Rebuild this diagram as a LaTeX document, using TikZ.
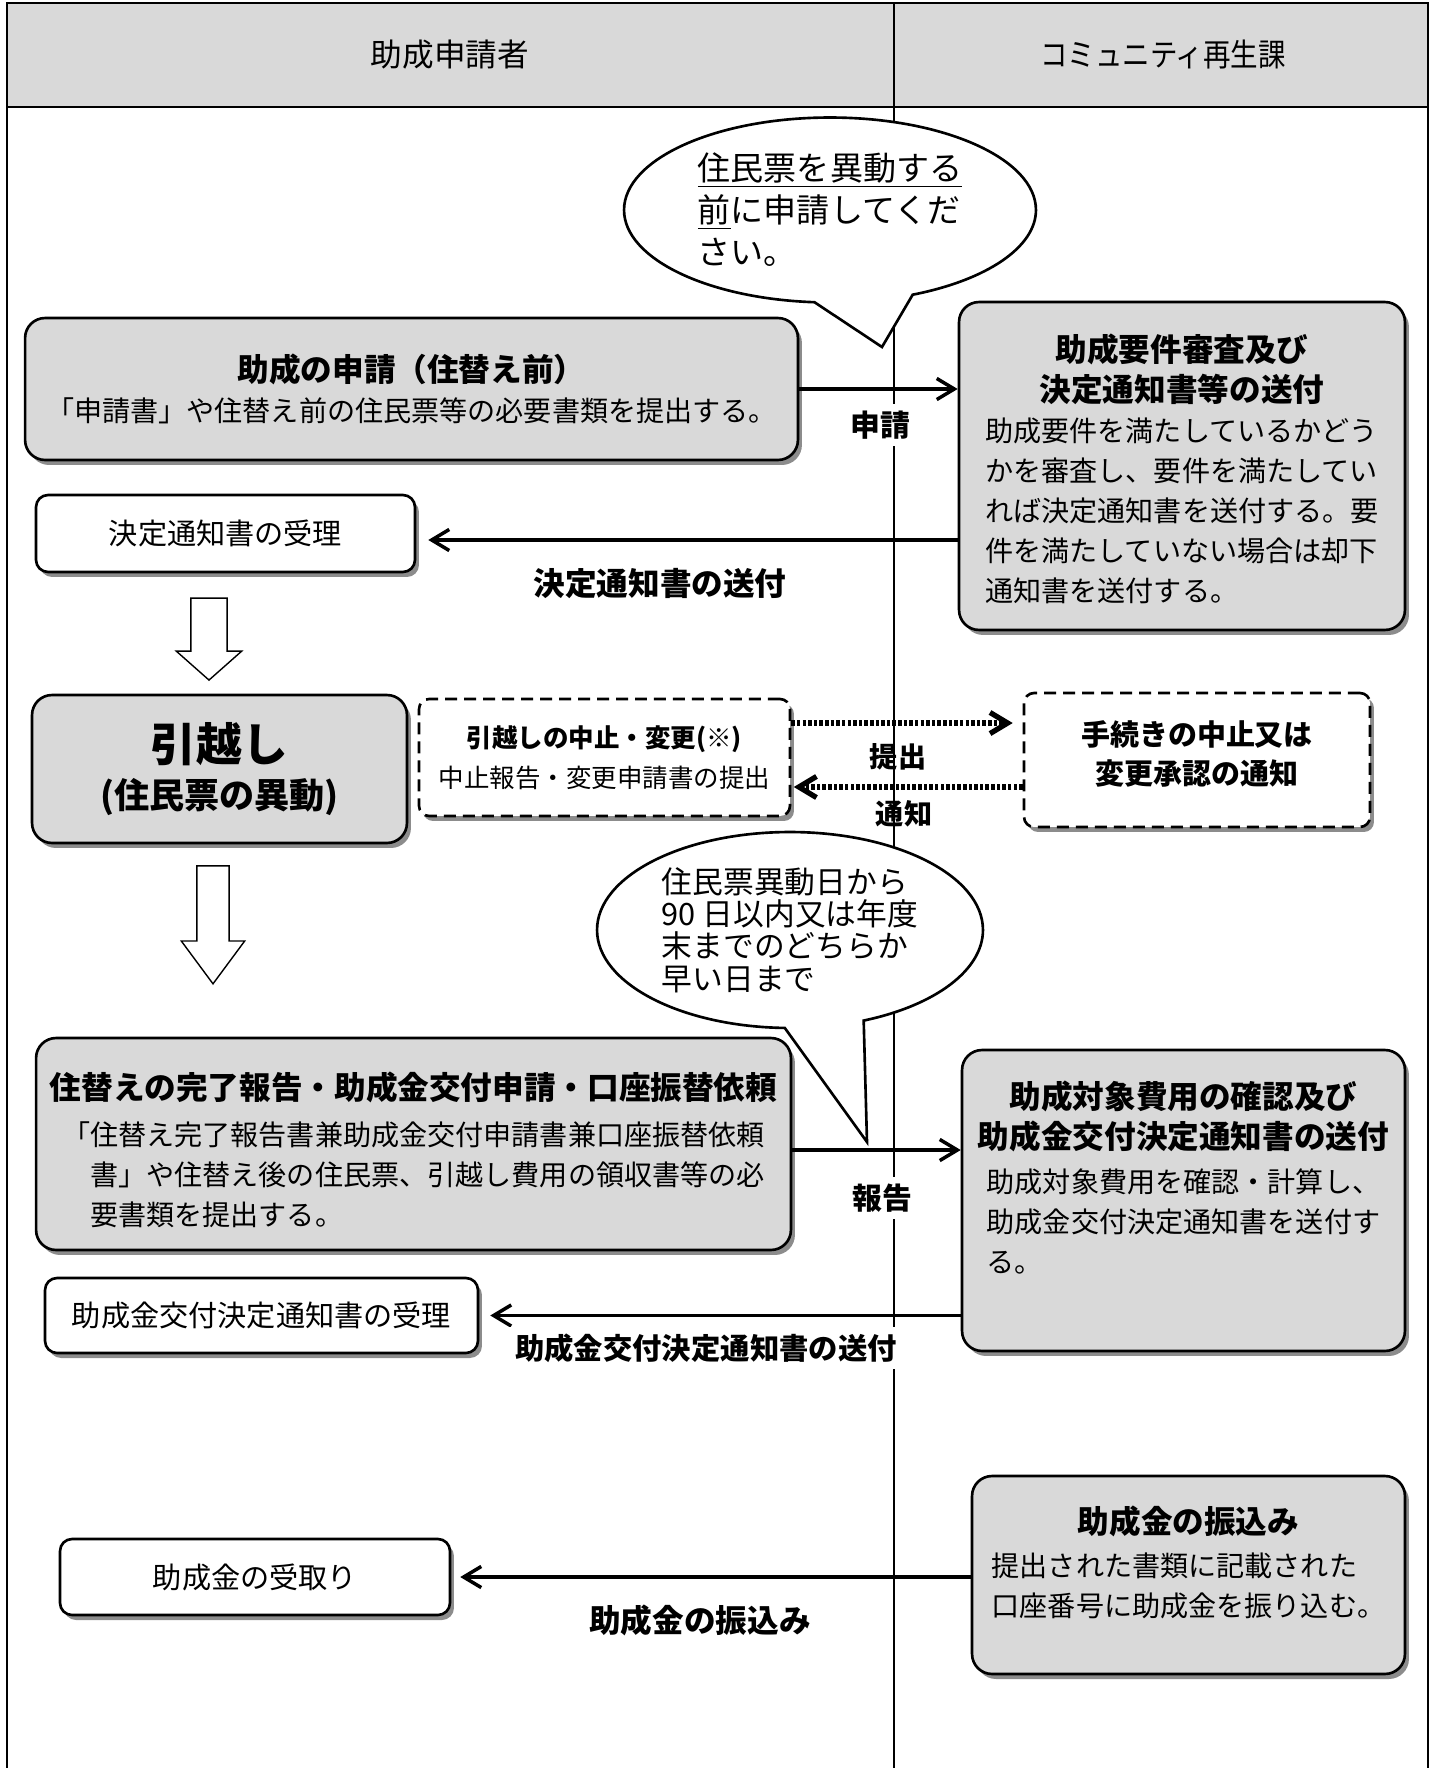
\documentclass[tikz,border=0pt]{standalone}
\usepackage{fontspec}
\setmainfont{Noto Sans CJK JP}
\newfontfamily\heavyfont{Noto Sans CJK JP Black}
\usetikzlibrary{arrows.meta,shapes.callouts,shapes.arrows,shadows}

\definecolor{boxgray}{RGB}{217,217,217}  % Hex: #d9d9d9
\definecolor{shadowgray}{RGB}{140,140,140}

\newcommand{\boxtitle}[1]{{\fontsize{18}{22.8}\selectfont\heavyfont #1}}
\newcommand{\bodylines}[1]{\begin{tabular}[t]{@{}l@{}}#1\end{tabular}}

\begin{document}
\begin{tikzpicture}[
        x=0.02cm, y=-0.02cm,
        lane/.style={
            line width=1.5pt
        },
        divider/.style={
            line width=1.1pt
        },
        colhead/.style={
            font=\fontsize{18}{22}\selectfont
        },
        graybox/.style={
            rectangle,
            rounded corners=0.4cm,
            draw,
            line width=1.5pt,
            fill=boxgray,
            drop shadow={shadow xshift=0.08cm, shadow yshift=-0.1cm, fill=shadowgray, opacity=1},
            align=center,
            font=\fontsize{16}{22.8}\selectfont
        },
        whitebox/.style={
            rectangle,
            rounded corners=0.24cm,
            draw,
            line width=1.5pt,
            fill=white,
            drop shadow={shadow xshift=0.08cm, shadow yshift=-0.1cm, fill=shadowgray, opacity=1},
            align=center,
            font=\fontsize{16.6}{22}\selectfont
        },
        dashbox/.style={
            rectangle,
            rounded corners=0.2cm,
            draw,
            dash pattern=on 0.24cm off 0.14cm,
            line width=1.5pt,
            fill=white,
            drop shadow={shadow xshift=0.08cm, shadow yshift=-0.1cm, fill=shadowgray, opacity=1},
            align=center
        },
        flow/.style={
            -{Straight Barb[length=10pt,width=12pt]},
            line width=2pt
        },
        dotflow/.style={
            flow,
            line width=3pt,
            dash pattern=on 2pt off 1.2pt
        },
        downarrow/.style={
            single arrow,
            shape border rotate=270,
            anchor=tip,
            draw,
            line width=0.8pt,
            fill=white
        },
        balloon/.style={
            ellipse callout,
            draw,
            line width=1.5pt,
            fill=white,
            inner sep=0pt,
            align=left
        },
        tag/.style={
            fill=white,
            inner sep=4pt,
            font=\fontsize{17}{20}\selectfont\bfseries
        }
    ]
        \useasboundingbox (0,0) rectangle (1434,1768);

        % Lanes
        \fill[boxgray] (7,3) rectangle (1428,107);
        \draw[lane] (7,1768) -- (7,3) -- (1428,3) -- (1428,1768);
        \draw[lane] (7,107) -- (1428,107);
        \draw[divider] (894,3) -- (894,1768);
        \node[colhead] (applicant) at (450,55) {助成申請者};
        \node[colhead] (office) at (1163,55) {\scalebox{0.87}[1]{コミュニティ再生課}};

        % ============== Before moving ==============
        \node[graybox, minimum width=15.46cm, minimum height=2.84cm] (apply) at (411.5,389)
            {\boxtitle{助成の申請（住替え前）}\\「申請書」や住替え前の住民票等の必要書類を提出する。};
        \node[graybox, minimum width=8.92cm, minimum height=6.56cm] (check) at (1182,466)
            {\boxtitle{\rule{0pt}{0.86cm}助成要件審査及び}\\\boxtitle{決定通知書等の送付}\\
             \bodylines{助成要件を満たしているかどう\\かを審査し、要件を満たしてい\\れば決定通知書を送付する。要\\件を満たしていない場合は却下\\通知書を送付する。}};
        \node[whitebox, minimum width=7.58cm, minimum height=1.54cm] (receipt) at (225.5,533.5) {決定通知書の受理};

        \draw[flow] (apply.east) -- (apply.east -| check.west);
        \draw[flow] ([yshift=-0.13cm]receipt.east -| check.west) -- ([yshift=-0.13cm,xshift=0.24cm]receipt.east);
        \node[tag] (applytag) at (880,425) {申請};
        \node[tag, font=\fontsize{18}{20}\selectfont\bfseries] (decisiontag) at (660,584) {決定通知書の送付};

        % ============== Moving ==============
        \node[downarrow, minimum height=1.64cm, minimum width=1.28cm, inner sep=0.35cm, single arrow head extend=0.29cm, single arrow tip angle=97] (down1) at (209,681) {};
        \node[graybox, minimum width=7.5cm, minimum height=2.96cm] (move) at (219.5,769)
            {{\fontsize{26}{30}\selectfont\heavyfont 引越し}\\[4pt]{\fontsize{20}{24}\selectfont\heavyfont (住民票の異動)}};
        \node[dashbox, minimum width=7.42cm, minimum height=2.34cm, font=\fontsize{14.5}{22.8}\selectfont] (change) at (604.5,757.5)
            {{\bfseries 引越しの中止・変更(※)}\\中止報告・変更申請書の提出};
        \node[dashbox, minimum width=6.92cm, minimum height=2.68cm, font=\fontsize{16.5}{22}\selectfont\bfseries] (approve) at (1197,760)
            {手続きの中止又は\\変更承認の通知\rule[-0.31cm]{0pt}{0pt}};

        \draw[dotflow] ([yshift=0.69cm]change.east) -- ([yshift=0.69cm,xshift=-0.2cm]change.east -| approve.west);
        \draw[dotflow] ([yshift=-0.59cm]change.east -| approve.west) -- ([yshift=-0.59cm,xshift=0.05cm]change.east);
        \node[tag, fill=none, font=\fontsize{16}{20}\selectfont\bfseries] (submittag) at (898,757) {提出};
        \node[tag, fill=none, font=\fontsize{16}{20}\selectfont\bfseries] (noticetag) at (904,814) {通知};

        \node[downarrow, minimum height=2.36cm, minimum width=1.24cm, inner sep=0.31cm, single arrow head extend=0.31cm, single arrow tip angle=73] (down2) at (213,985) {};

        % ============== After moving ==============
        \node[graybox, minimum width=15.1cm, minimum height=4.24cm] (report) at (413.5,1144)
            {\boxtitle{\rule{0pt}{0.98cm}住替えの完了報告・助成金交付申請・口座振替依頼}\\[3pt]
             \bodylines{「住替え完了報告書兼助成金交付申請書兼口座振替依頼\\\hspace*{1em}書」や住替え後の住民票、引越し費用の領収書等の必\\\hspace*{1em}要書類を提出する。}};
        \node[graybox, minimum width=8.86cm, minimum height=6.02cm] (cost) at (1183.5,1200.5)
            {\boxtitle{助成対象費用の確認及び}\\\boxtitle{助成金交付決定通知書の送付}\\[2pt]
             \bodylines{助成対象費用を確認・計算し、\\助成金交付決定通知書を送付す\\る。\rule[-0.95cm]{0pt}{0pt}}};
        \node[whitebox, minimum width=8.66cm, minimum height=1.5cm] (grant) at (261.5,1315.5) {助成金交付決定通知書の受理};

        \draw[flow] ([yshift=-0.12cm]report.east) -- ([yshift=-0.12cm]report.east -| cost.west);
        \draw[flow] (grant.east -| cost.west) -- ([xshift=0.22cm]grant.east);
        \node[tag] (reporttag) at (882,1198) {報告};
        \node[tag, font=\fontsize{16.7}{20}\selectfont\bfseries] (granttag) at (706,1348) {助成金交付決定通知書の送付};

        % ============== Payment ==============
        \node[graybox, minimum width=8.66cm, minimum height=3.96cm] (transfer) at (1188.5,1575)
            {\boxtitle{助成金の振込み}\\[1.5pt]
             \bodylines{提出された書類に記載された\\口座番号に助成金を振り込む。\rule[-0.54cm]{0pt}{0pt}}};
        \node[whitebox, minimum width=7.8cm, minimum height=1.52cm] (money) at (255,1577) {助成金の受取り};

        \draw[flow] (money.east -| transfer.west) -- ([xshift=0.18cm]money.east);
        \node[tag, font=\fontsize{18}{20}\selectfont\bfseries] (paytag) at (700,1620) {助成金の振込み};

        % ============== Notes ==============
        \node[balloon, minimum width=8.24cm, minimum height=3.7cm, callout absolute pointer={(882,347)}, callout pointer arc=28, font=\fontsize{18.8}{23.9}\selectfont] (note1) at (830,210)
            {\underline{住民票を異動する}\\\underline{前}に申請してくだ\\さい。};
        \node[balloon, minimum width=7.72cm, minimum height=3.92cm, callout absolute pointer={(867,1142)}, callout pointer arc=24, font=\fontsize{17.5}{18.4}\selectfont] (note2) at (790,930)
            {住民票異動日から\\90 日以内又は年度\\末までのどちらか\\早い日まで};
    \end{tikzpicture}
\end{document}
